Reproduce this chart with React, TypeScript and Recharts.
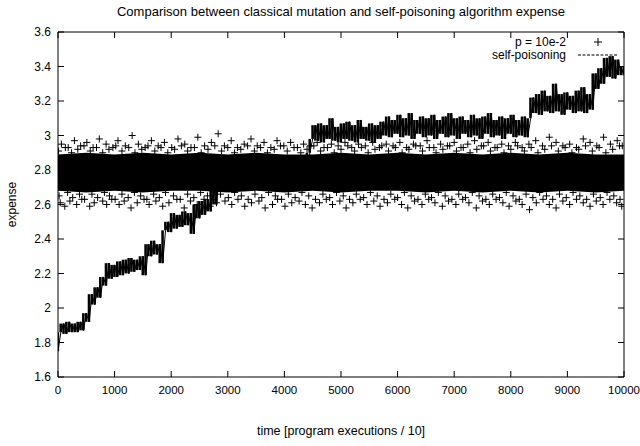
import {
  ComposedChart,
  Area,
  Bar,
  Line,
  Scatter,
  XAxis,
  YAxis,
  ReferenceArea,
} from 'recharts';

const FONT = '"Liberation Sans", Arial, Helvetica, sans-serif';

// plot box in pixels (gnuplot style frame)
const LEFT = 58;
const RIGHT = 624;
const TOP = 32;
const BOTTOM = 377;

const xTicks = [0, 1000, 2000, 3000, 4000, 5000, 6000, 7000, 8000, 9000, 10000];
const yTicks = [1.6, 1.8, 2, 2.2, 2.4, 2.6, 2.8, 3, 3.2, 3.4, 3.6];

// self-poisoning expense, sampled every 50 time units (alternating highs / lows of the noise)
const LINE_STEP = 50;
const climb = [
  1.75, 1.86, 1.91, 1.85, 1.92, 1.86, 1.91, 1.86, 1.92, 1.87,
  1.97, 1.92, 2.08, 2.02, 2.12, 2.06, 2.18, 2.13, 2.26, 2.17,
  2.25, 2.18, 2.27, 2.19, 2.28, 2.2, 2.29, 2.21, 2.28, 2.22,
  2.3, 2.19, 2.37, 2.3, 2.39, 2.31, 2.37, 2.26, 2.45, 2.5,
  2.44, 2.55, 2.46, 2.54, 2.47, 2.56, 2.48, 2.55, 2.43, 2.6,
  2.52, 2.62, 2.54, 2.63, 2.56, 2.7, 2.6, 2.76, 2.69, 2.8,
];
const level28 = [
  2.71, 2.82, 2.72, 2.81, 2.7, 2.83, 2.73, 2.8, 2.71, 2.82,
  2.72, 2.84, 2.7, 2.81, 2.73, 2.82, 2.71, 2.8, 2.72, 2.83,
  2.74, 2.82, 2.71, 2.81, 2.73, 2.84, 2.72, 2.83, 2.76,
];
const jump30 = [2.9, 2.98, 3.06];
const level30 = [
  2.97, 3.07, 2.96, 3.06, 2.98, 3.1, 2.97, 3.05, 2.96, 3.07,
  2.98, 3.08, 2.97, 3.06, 2.96, 3.09, 2.98, 3.05, 2.97, 3.07,
  2.96, 3.06, 2.98, 3.08,
];
const level304 = [
  3.0, 3.11, 2.99, 3.09, 3.01, 3.12, 2.99, 3.1, 3.0, 3.13,
  2.98, 3.09, 3.01, 3.11, 2.99, 3.1, 3.0, 3.12, 2.98, 3.09,
  3.01, 3.11, 2.99, 3.13, 3.0, 3.1, 2.98, 3.11, 3.01, 3.09,
  2.99, 3.12, 3.0, 3.1, 2.98, 3.11, 3.01, 3.13, 2.99, 3.09,
  3.0, 3.11, 2.98, 3.1, 3.01, 3.12, 2.99, 3.09, 3.0, 3.11,
  2.99, 3.1,
];
const level32 = [
  3.22, 3.13, 3.24, 3.12, 3.26, 3.14, 3.23, 3.13, 3.3, 3.14,
  3.24, 3.12, 3.25, 3.15, 3.23, 3.13, 3.26, 3.14, 3.28, 3.13,
  3.24, 3.15,
];
const level34 = [3.36, 3.27, 3.39, 3.3, 3.45, 3.34, 3.46, 3.33, 3.44, 3.35, 3.4];

// classical mutation: dense core of the cloud (every 500)
const bandT = [0, 500, 1000, 1500, 2000, 2500, 3000, 3500, 4000, 4500, 5000,
  5500, 6000, 6500, 7000, 7500, 8000, 8500, 9000, 9500, 10000];
const bandLow = [2.68, 2.67, 2.68, 2.67, 2.68, 2.68, 2.67, 2.68, 2.67, 2.68, 2.67,
  2.68, 2.68, 2.67, 2.68, 2.67, 2.68, 2.67, 2.68, 2.67, 2.68];
const bandHigh = [2.89, 2.9, 2.89, 2.9, 2.89, 2.9, 2.89, 2.9, 2.89, 2.89, 2.9,
  2.89, 2.9, 2.89, 2.9, 2.89, 2.9, 2.89, 2.9, 2.89, 2.89];

// classical mutation: points on the ragged edges of the core
const lowerEdge = [
  [20, 2.65], [170, 2.67], [260, 2.64], [380, 2.66], [470, 2.63], [600, 2.66], [700, 2.64],
  [820, 2.67], [910, 2.65], [1010, 2.63], [1130, 2.66], [1240, 2.64], [1350, 2.67], [1460, 2.65],
  [1570, 2.63], [1690, 2.66], [1790, 2.64], [1900, 2.67], [2040, 2.65], [2160, 2.63], [2290, 2.66],
  [2400, 2.64], [2520, 2.67], [2640, 2.65], [2750, 2.63], [2870, 2.66], [3010, 2.64], [3120, 2.67],
  [3240, 2.65], [3360, 2.63], [3480, 2.66], [3600, 2.64], [3720, 2.67], [3840, 2.65], [3950, 2.63],
  [4070, 2.66], [4190, 2.64], [4310, 2.67], [4430, 2.65], [4550, 2.63], [4680, 2.66], [4800, 2.64],
  [4920, 2.67], [5040, 2.65], [5150, 2.63], [5270, 2.66], [5400, 2.64], [5520, 2.67], [5640, 2.65],
  [5760, 2.63], [5880, 2.66], [6000, 2.64], [6120, 2.67], [6240, 2.65], [6360, 2.63], [6490, 2.66],
  [6600, 2.64], [6720, 2.67], [6840, 2.65], [6960, 2.63], [7080, 2.66], [7200, 2.64], [7320, 2.67],
  [7440, 2.65], [7560, 2.63], [7680, 2.66], [7800, 2.64], [7920, 2.67], [8040, 2.65], [8150, 2.63],
  [8270, 2.66], [8390, 2.64], [8510, 2.67], [8630, 2.65], [8740, 2.63], [8860, 2.66], [8980, 2.64],
  [9100, 2.67], [9220, 2.65], [9340, 2.63], [9460, 2.66], [9580, 2.64], [9700, 2.67], [9820, 2.65],
  [9930, 2.63],
];
const upperEdge = [
  [10, 2.91], [130, 2.93], [240, 2.9], [350, 2.92], [460, 2.94], [570, 2.91], [680, 2.93],
  [790, 2.9], [900, 2.92], [1020, 2.94], [1130, 2.91], [1250, 2.93], [1360, 2.9], [1480, 2.92],
  [1590, 2.94], [1710, 2.91], [1820, 2.93], [1940, 2.9], [2060, 2.92], [2180, 2.94], [2290, 2.91],
  [2410, 2.93], [2530, 2.9], [2650, 2.92], [2770, 2.94], [2890, 2.91], [3000, 2.93], [3120, 2.9],
  [3230, 2.92], [3350, 2.94], [3470, 2.91], [3580, 2.93], [3700, 2.9], [3820, 2.92], [3930, 2.94],
  [4050, 2.91], [4170, 2.93], [4290, 2.9], [4400, 2.92], [4520, 2.94], [4640, 2.91], [4760, 2.93],
  [4880, 2.9], [5000, 2.92], [5120, 2.94], [5240, 2.91], [5360, 2.93], [5480, 2.9], [5600, 2.92],
  [5720, 2.94], [5840, 2.91], [5960, 2.93], [6080, 2.9], [6200, 2.92], [6320, 2.94], [6440, 2.91],
  [6560, 2.93], [6680, 2.9], [6800, 2.92], [6920, 2.94], [7040, 2.91], [7160, 2.93], [7280, 2.9],
  [7400, 2.92], [7520, 2.94], [7640, 2.91], [7760, 2.93], [7880, 2.9], [8000, 2.92], [8120, 2.94],
  [8240, 2.91], [8360, 2.93], [8480, 2.9], [8600, 2.92], [8720, 2.94], [8840, 2.91], [8960, 2.93],
  [9080, 2.9], [9200, 2.92], [9320, 2.94], [9440, 2.91], [9560, 2.93], [9680, 2.9], [9800, 2.92],
  [9920, 2.94],
];

// classical mutation: loose points around the core
const lowerPoints = [
  [40, 2.61], [120, 2.59], [210, 2.62], [330, 2.6], [420, 2.63], [560, 2.59], [640, 2.61],
  [790, 2.62], [860, 2.6], [950, 2.63], [1080, 2.6], [1170, 2.62], [1290, 2.58], [1400, 2.61],
  [1520, 2.63], [1610, 2.6], [1730, 2.62], [1850, 2.59], [1960, 2.61], [2100, 2.63], [2230, 2.58],
  [2340, 2.62], [2460, 2.6], [2580, 2.63], [2690, 2.59], [2800, 2.61], [2950, 2.62], [3070, 2.6],
  [3180, 2.63], [3300, 2.59], [3420, 2.61], [3550, 2.62], [3660, 2.58], [3790, 2.6], [3880, 2.63],
  [4010, 2.59], [4130, 2.61], [4260, 2.62], [4370, 2.6], [4490, 2.58], [4620, 2.61], [4740, 2.63],
  [4850, 2.6], [4980, 2.62], [5090, 2.58], [5210, 2.61], [5340, 2.63], [5460, 2.6], [5580, 2.62],
  [5690, 2.59], [5820, 2.61], [5950, 2.63], [6070, 2.6], [6180, 2.58], [6300, 2.62], [6430, 2.6],
  [6550, 2.63], [6660, 2.61], [6790, 2.59], [6900, 2.62], [7030, 2.6], [7150, 2.63], [7260, 2.61],
  [7390, 2.58], [7500, 2.62], [7620, 2.6], [7740, 2.63], [7860, 2.61], [7970, 2.59], [8090, 2.62],
  [8200, 2.6], [8330, 2.57], [8450, 2.61], [8570, 2.63], [8680, 2.6], [8800, 2.58], [8920, 2.62],
  [9040, 2.6], [9160, 2.63], [9280, 2.61], [9400, 2.59], [9510, 2.62], [9630, 2.6], [9750, 2.63],
  [9870, 2.61], [9960, 2.59],
];
const upperPoints = [
  [60, 2.95], [180, 2.93], [290, 2.97], [400, 2.94], [510, 2.96], [620, 2.93], [730, 2.98],
  [850, 2.95], [970, 2.93], [1060, 2.97], [1190, 2.94], [1310, 3.0], [1420, 2.95], [1540, 2.93],
  [1650, 2.97], [1770, 2.94], [1880, 2.96], [2010, 2.93], [2120, 2.98], [2240, 2.95], [2350, 2.93],
  [2470, 2.99], [2590, 2.94], [2710, 2.96], [2830, 3.01], [2940, 2.94], [3060, 2.97], [3170, 2.93],
  [3290, 2.95], [3410, 2.98], [3520, 2.94], [3640, 2.96], [3760, 2.93], [3870, 2.97], [3990, 2.94],
  [4110, 2.96], [4230, 2.93], [4340, 2.95], [4460, 2.94], [4580, 2.96], [4700, 2.93], [4830, 2.95],
  [4950, 2.94], [5070, 2.96], [5190, 2.93], [5310, 2.95], [5430, 2.94], [5560, 2.96], [5680, 2.93],
  [5800, 2.95], [5920, 2.94], [6040, 2.96], [6160, 2.93], [6280, 2.95], [6400, 2.94], [6520, 2.97],
  [6640, 2.93], [6760, 2.95], [6880, 2.94], [7000, 2.96], [7120, 2.93], [7240, 2.95], [7360, 2.97],
  [7480, 2.94], [7600, 2.96], [7720, 2.93], [7840, 2.95], [7960, 2.94], [8080, 2.96], [8200, 2.93],
  [8320, 2.95], [8440, 2.97], [8560, 2.94], [8680, 2.99], [8800, 2.96], [8920, 2.94], [9040, 2.95],
  [9160, 2.93], [9280, 2.98], [9400, 2.96], [9520, 2.94], [9640, 2.99], [9760, 2.95], [9880, 2.97],
  [9970, 2.94],
];

const lineValues = [...climb, ...level28, ...jump30, ...level30, ...level304, ...level32, ...level34];
// each column of the dense series spans from one sample to the next
const lineRows = lineValues.map((v, i) => {
  const next = i < lineValues.length - 1 ? lineValues[i + 1] : lineValues[i - 1];
  return { t: i * LINE_STEP, v, span: [Math.min(v, next), Math.max(v, next)] };
});
const bandRows = bandT.map((t, i) => ({ t, range: [bandLow[i], bandHigh[i]] }));
const pointRows = [...lowerEdge, ...upperEdge, ...lowerPoints, ...upperPoints].map(([t, v]) => ({ t, v }));

const XTick = (props: any) => {
  const { x, payload } = props;
  return (
    <g>
      <line x1={x} y1={BOTTOM} x2={x} y2={BOTTOM - 6} stroke="#000" />
      <line x1={x} y1={TOP} x2={x} y2={TOP + 6} stroke="#000" />
      <text x={x} y={BOTTOM + 17} textAnchor="middle" fontSize={11.5} fontFamily={FONT} fill="#000">
        {payload.value}
      </text>
    </g>
  );
};

const YTick = (props: any) => {
  const { y, payload } = props;
  return (
    <g>
      <line x1={LEFT} y1={y} x2={LEFT + 6} y2={y} stroke="#000" />
      <line x1={RIGHT} y1={y} x2={RIGHT - 6} y2={y} stroke="#000" />
      <text x={LEFT - 7} y={y} dy={4} textAnchor="end" fontSize={12} fontFamily={FONT} fill="#000">
        {String(payload.value)}
      </text>
    </g>
  );
};

const PlusMark = (props: any) => {
  const { cx, cy } = props;
  if (cx == null || cy == null) return null;
  return <path d={`M${cx - 3.5},${cy}H${cx + 3.5}M${cx},${cy - 3.5}V${cy + 3.5}`} stroke="#000" strokeWidth={1} fill="none" />;
};

const margin = { top: TOP, right: 640 - RIGHT, bottom: 0, left: 0 };

const axes = (withTicks: boolean) => [
  <XAxis
    key="x"
    dataKey="t"
    type="number"
    domain={[0, 10000]}
    ticks={xTicks}
    interval={0}
    height={446 - BOTTOM}
    axisLine={false}
    tickLine={false}
    tick={withTicks ? <XTick /> : false}
    allowDataOverflow
  />,
  <YAxis
    key="y"
    type="number"
    domain={[1.6, 3.6]}
    ticks={yTicks}
    interval={0}
    width={LEFT}
    axisLine={false}
    tickLine={false}
    tick={withTicks ? <YTick /> : false}
    allowDataOverflow
  />,
];

export default function App() {
  return (
    <div style={{ position: 'absolute', left: 0, top: 0, width: 640, height: 446, background: '#fff' }}>
      {/* classical mutation cloud */}
      <div style={{ position: 'absolute', left: 0, top: 0 }}>
        <ComposedChart width={640} height={446} data={bandRows} margin={margin}>
          {axes(false)}
          <Area
            dataKey="range"
            type="linear"
            stroke="none"
            fill="#000"
            fillOpacity={1}
            isAnimationActive={false}
          />
          <Scatter data={pointRows} dataKey="v" shape={<PlusMark />} isAnimationActive={false} />
        </ComposedChart>
      </div>
      {/* self-poisoning series, frame and ticks */}
      <div style={{ position: 'absolute', left: 0, top: 0 }}>
        <ComposedChart width={640} height={446} data={lineRows} margin={margin}>
          {axes(true)}
          <Bar dataKey="span" barSize={3} fill="#000" isAnimationActive={false} />
          <Line
            dataKey="v"
            type="linear"
            stroke="#000"
            strokeWidth={1}
            dot={false}
            isAnimationActive={false}
          />
          <ReferenceArea
            x1={0}
            x2={10000}
            y1={1.6}
            y2={3.6}
            fill="none"
            stroke="#000"
            strokeWidth={1}
            ifOverflow="visible"
          />
        </ComposedChart>
      </div>
      <svg
        width={640}
        height={446}
        style={{ position: 'absolute', left: 0, top: 0, pointerEvents: 'none' }}
        fontFamily={FONT}
        fontSize={12}
      >
        <text x={(LEFT + RIGHT) / 2} y={16} textAnchor="middle" fontSize={13} fill="#000">
          Comparison between classical mutation and self-poisoning algorithm expense
        </text>
        <text x={(LEFT + RIGHT) / 2} y={435} textAnchor="middle" fontSize={12.5} fill="#000">
          time [program executions / 10]
        </text>
        <text
          x={16}
          y={(TOP + BOTTOM) / 2}
          transform={`rotate(-90 16 ${(TOP + BOTTOM) / 2})`}
          textAnchor="middle"
          fill="#000"
        >
          expense
        </text>
        <text x={566} y={46} textAnchor="end" fill="#000">p = 10e-2</text>
        <path d="M594,42H602M598,38V46" stroke="#000" fill="none" />
        <text x={566} y={59} textAnchor="end" fill="#000">self-poisoning</text>
        <line x1={578} y1={55} x2={617} y2={55} stroke="#000" strokeDasharray="3 1.5" />
      </svg>
    </div>
  );
}
